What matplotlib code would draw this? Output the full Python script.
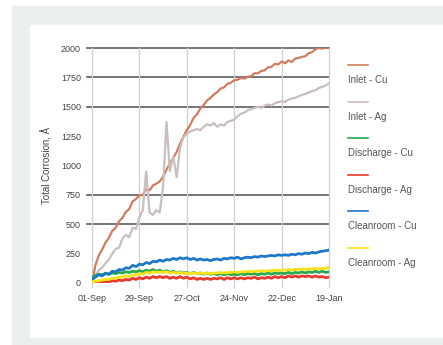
from matplotlib import pyplot as plt
from matplotlib.lines import Line2D
from matplotlib.patches import Rectangle

plt.rcParams['font.family'] = ['Liberation Sans', 'DejaVu Sans']

# days since 01-Sep, one reading every 2 days
days = list(range(0, 141, 2))
tick_days = [0, 28, 56, 84, 112, 140]
tick_labels = ["01-Sep", "29-Sep", "27-Oct", "24-Nov", "22-Dec", "19-Jan"]

inlet_cu = [0, 150, 235, 285, 345, 385, 445, 470, 525, 555,
            605, 630, 695, 715, 745, 750, 795, 790, 830, 845,
            865, 905, 965, 1015, 1065, 1115, 1185, 1245, 1300, 1345,
            1405, 1435, 1485, 1515, 1555, 1575, 1605, 1625, 1655, 1665,
            1695, 1705, 1725, 1730, 1745, 1740, 1755, 1760, 1785, 1785,
            1805, 1810, 1835, 1840, 1865, 1860, 1885, 1870, 1895, 1880,
            1910, 1915, 1925, 1930, 1955, 1965, 1990, 2000, 1995, 2005,
            2000]
inlet_ag = [0, 60, 110, 130, 170, 200, 250, 290, 300, 380,
            410, 390, 470, 460, 560, 620, 950, 600, 580, 620,
            600, 820, 1370, 950, 1080, 900, 1150, 1240, 1270, 1290,
            1300, 1310, 1300, 1330, 1350, 1340, 1360, 1330, 1350, 1340,
            1370, 1380, 1390, 1420, 1440, 1450, 1470, 1480, 1490, 1500,
            1490, 1510, 1520, 1510, 1530, 1540, 1545, 1540, 1560, 1570,
            1575, 1590, 1600, 1610, 1620, 1635, 1640, 1660, 1670, 1680,
            1700]
discharge_cu = [40, 65, 75, 70, 80, 75, 85, 80, 90, 85,
                95, 90, 100, 95, 105, 95, 110, 100, 115, 100,
                110, 95, 105, 90, 100, 85, 95, 85, 90, 80,
                90, 80, 85, 75, 85, 75, 80, 70, 80, 70,
                80, 70, 75, 70, 80, 70, 80, 75, 80, 70,
                80, 75, 85, 75, 85, 80, 85, 80, 90, 80,
                90, 85, 95, 85, 95, 90, 100, 90, 100, 90,
                95]
discharge_ag = [0, 5, 10, 5, 15, 10, 20, 15, 25, 20,
                30, 25, 40, 30, 45, 35, 50, 40, 55, 45,
                55, 45, 55, 40, 50, 40, 55, 40, 50, 35,
                45, 30, 40, 30, 40, 30, 40, 35, 45, 30,
                45, 35, 45, 35, 45, 35, 45, 40, 50, 35,
                45, 40, 50, 40, 55, 45, 55, 45, 60, 50,
                60, 50, 60, 55, 60, 50, 60, 50, 55, 45,
                50]
cleanroom_cu = [30, 50, 70, 60, 85, 75, 100, 95, 115, 110,
                130, 125, 150, 140, 160, 155, 175, 165, 185, 180,
                195, 185, 200, 195, 210, 200, 215, 205, 215, 200,
                210, 195, 205, 195, 200, 190, 200, 205, 195, 210,
                205, 215, 210, 220, 205, 215, 220, 215, 225, 220,
                230, 225, 230, 235, 230, 240, 235, 240, 235, 245,
                240, 250, 245, 255, 250, 260, 255, 265, 270, 275,
                280]
cleanroom_ag = [10, 15, 20, 25, 30, 30, 40, 40, 50, 50,
                60, 55, 70, 65, 80, 75, 90, 85, 95, 90,
                95, 90, 95, 85, 90, 85, 90, 80, 85, 80,
                85, 80, 85, 80, 85, 80, 85, 85, 90, 85,
                90, 90, 95, 90, 95, 95, 100, 95, 100, 100,
                105, 100, 105, 105, 110, 105, 110, 110, 115, 110,
                115, 115, 120, 115, 120, 120, 125, 120, 125, 125,
                130]

series = [
    ("Inlet - Cu", inlet_cu, "#cf7d5e", 1.6),
    ("Inlet - Ag", inlet_ag, "#c9bfbc", 1.6),
    ("Discharge - Cu", discharge_cu, "#2aa84e", 2.0),
    ("Discharge - Ag", discharge_ag, "#e8392c", 2.0),
    ("Cleanroom - Cu", cleanroom_cu, "#1f78c8", 2.0),
    ("Cleanroom - Ag", cleanroom_ag, "#f7e21c", 2.0),
]

W, H = 443, 345
fig = plt.figure(figsize=(W / 100, H / 100), dpi=100)
fig.patch.set_facecolor("white")
fig.add_artist(Rectangle((12 / W, 0), (W - 12) / W, (H - 6) / H,
                         transform=fig.transFigure, color="#e9eeee", zorder=-2))
fig.add_artist(Rectangle((30 / W, 8 / H), (W - 30) / W, 312 / H,
                         transform=fig.transFigure, color="white", zorder=-1))

ax = fig.add_axes([92 / W, 1 - 283 / H, 237 / W, 235 / H])
ax.set_facecolor("none")

for name, vals, col, lw in series:
    ax.plot(days, vals, color=col, lw=lw)

ax.set_xlim(0, 140)
ax.set_ylim(0, 2000)

for v in [500, 750, 1500, 1750, 2000]:
    ax.axhline(v, xmin=-0.022, xmax=1, color="#5e5e5e", lw=1.2, zorder=0, clip_on=False)
for d in tick_days:
    ax.axvline(d, ymin=-0.018, ymax=1, color="#d3cfcf", lw=0.9, zorder=0, clip_on=False)

ax.set_xticks(tick_days)
ax.set_xticklabels(tick_labels)
ax.set_yticks([0, 250, 500, 750, 1000, 1250, 1500, 1750, 2000])
ax.tick_params(length=0, labelsize=6.5, colors="#454545")
ax.tick_params(axis="y", pad=8)
ax.tick_params(axis="x", pad=8)
for s in ax.spines.values():
    s.set_visible(False)

ax.set_ylabel("Total Corrosion, Å", fontsize=7, color="#454545", labelpad=6)

# legend on the right: line sample above each label
for i, (name, vals, col, lw) in enumerate(series):
    y_line = 65 + 36.6 * i
    fig.add_artist(Line2D([348 / W, 368 / W], [1 - y_line / H] * 2,
                          transform=fig.transFigure, color=col, lw=1.2))
    fig.text(348 / W, 1 - (y_line + 15) / H, name, fontsize=7,
             color="#555555", va="center", ha="left")

plt.savefig("out.png", dpi=100)
